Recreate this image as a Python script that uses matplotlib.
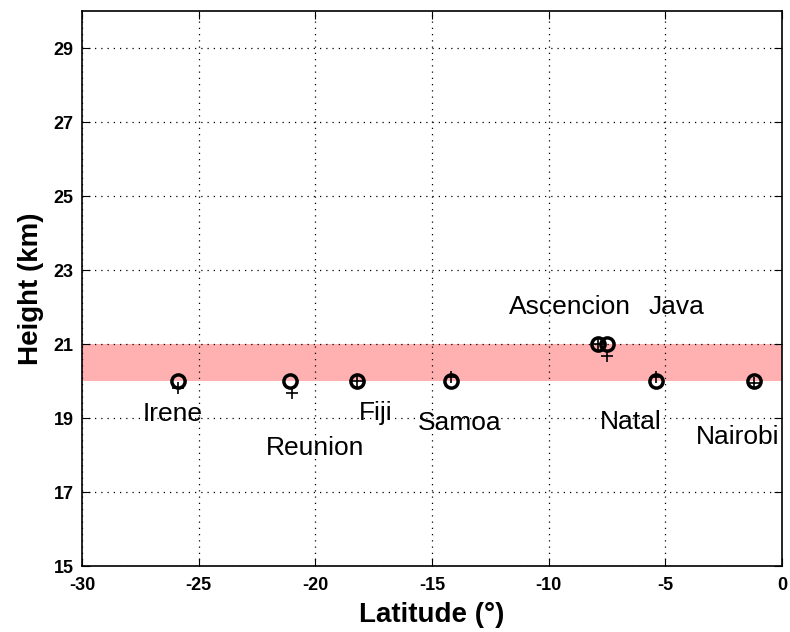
import matplotlib.pyplot as plt
import numpy as np

plt.rcParams['font.family'] = ['Liberation Sans', 'DejaVu Sans']
plt.rcParams['axes.unicode_minus'] = False

stations = ['Irene', 'Reunion', 'Fiji', 'Samoa', 'Ascencion', 'Java', 'Natal', 'Nairobi']
lat = [-25.9, -21.1, -18.2, -14.2, -7.9, -7.5, -5.4, -1.2]
height_o = [20.0, 20.0, 20.0, 20.0, 21.0, 21.0, 20.0, 20.0]
lat_plus = [-25.9, -21.0, -18.2, -14.2, -7.9, -7.5, -5.4, -1.2]
height_plus = [19.8, 19.68, 20.0, 20.12, 21.0, 20.68, 20.12, 19.95]

# label positions (lat, height)
label_x = [-26.1, -20.0, -17.4, -13.8, -9.1, -4.5, -6.5, -1.9]
label_y = [19.1, 18.2, 19.13, 18.86, 22.0, 22.0, 18.9, 18.5]

band = (20, 21)

fig = plt.figure(figsize=(7.9, 6.32), dpi=100)
ax = fig.add_axes([0.1038, 0.1044, 0.886, 0.878])

ax.axhspan(band[0], band[1], color='#ffb0b0', lw=0, zorder=0)

ax.plot(lat, height_o, 'o', mfc='none', mec='k', ms=9.5, mew=2.5, zorder=3)
ax.plot(lat_plus, height_plus, '+', color='k', ms=8.5, mew=1.2, zorder=3)

for name, x, y in zip(stations, label_x, label_y):
    ax.text(x, y, name, fontsize=19, ha='center', va='center')

ax.set_xlim(-30, 0)
ax.set_ylim(15, 30)
ax.set_xticks(np.arange(-30, 1, 5))
ax.set_yticks(np.arange(15, 30, 2))
ax.grid(True, linestyle=(0, (1, 4)), color='k', lw=0.9)
ax.tick_params(direction='in', top=True, right=True, labelsize=13, length=6)
ax.tick_params(axis='x', pad=8)
ax.tick_params(axis='y', pad=6)
for lab in ax.get_xticklabels() + ax.get_yticklabels():
    lab.set_fontweight('bold')
for s in ax.spines.values():
    s.set_linewidth(1.2)

ax.set_xlabel('Latitude (°)', fontsize=20, fontweight='bold', labelpad=6)
ax.set_ylabel('Height (km)', fontsize=20, fontweight='bold', labelpad=7)

fig.savefig('out.png', dpi=100)
